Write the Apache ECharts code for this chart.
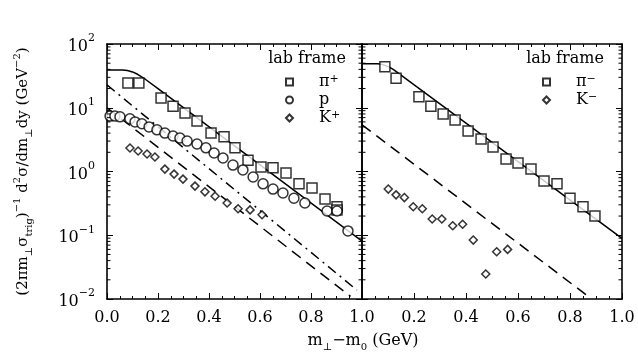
<!DOCTYPE html>
<html>
<head>
<meta charset="utf-8">
<script src="https://cdn.jsdelivr.net/npm/echarts@6/dist/echarts.min.js"></script>
<style>
html,body{margin:0;padding:0;background:#fff;}
#c{width:638px;height:358px;}
</style>
</head>
<body>
<div id="c"></div>
<script>
// ---------- data ----------
// left panel: pi+, p, K+
const piPlus = [[0.082,24.4],[0.125,24.4],[0.212,14.2],[0.259,10.6],[0.306,8.3],[0.353,6.2],[0.408,4.0],[0.459,3.5],[0.502,2.35],[0.553,1.5],[0.604,1.18],[0.651,1.14],[0.702,0.95],[0.753,0.64],[0.804,0.55],[0.855,0.37],[0.902,0.28],[0.902,0.25]];
const proton = [[0.012,7.4],[0.031,7.4],[0.051,7.2],[0.090,6.7],[0.110,6.0],[0.137,5.6],[0.165,5.0],[0.196,4.5],[0.227,4.0],[0.259,3.6],[0.286,3.35],[0.314,3.0],[0.353,2.7],[0.388,2.35],[0.420,1.95],[0.455,1.63],[0.494,1.26],[0.533,1.06],[0.573,0.82],[0.612,0.64],[0.651,0.53],[0.690,0.46],[0.733,0.38],[0.776,0.32],[0.863,0.24],[0.902,0.24],[0.945,0.117]];
const kPlus = [[0.090,2.34],[0.122,2.10],[0.157,1.88],[0.188,1.69],[0.227,1.09],[0.263,0.91],[0.298,0.76],[0.345,0.59],[0.384,0.48],[0.424,0.41],[0.471,0.32],[0.514,0.26],[0.561,0.25],[0.608,0.21]];
const fitSolidL = [[0,39],[0.06,39],[0.08,38.3],[0.10,36.5],[0.12,33.5],[0.15,28],[0.20,20],[1.0,0.081]];
const fitDashL = [[0,10],[0.955,0.011]];
const fitDashDotL = [[0,22.8],[0.98,0.0138]];
// right panel: pi-, K-
const piMinus = [[0.088,44],[0.131,29],[0.219,14.9],[0.265,10.6],[0.312,8.0],[0.358,6.4],[0.408,4.3],[0.458,3.24],[0.504,2.42],[0.554,1.57],[0.600,1.36],[0.650,1.09],[0.700,0.71],[0.750,0.64],[0.800,0.38],[0.850,0.28],[0.896,0.20]];
const kMinus = [[0.101,0.53],[0.131,0.43],[0.163,0.39],[0.197,0.28],[0.232,0.26],[0.270,0.18],[0.307,0.18],[0.349,0.141],[0.387,0.149],[0.428,0.084],[0.476,0.0247],[0.518,0.055],[0.560,0.060]];
const fitSolidR = [[0,49],[0.06,49],[0.08,47.5],[0.10,44.5],[0.12,40],[1.0,0.089]];
const fitDashR = [[0,5.4],[0.87,0.011]];
// axis ticks
const xTicks = [0,0.2,0.4,0.6,0.8,1.0];
const yDecades = [0.01,0.1,1,10];
const yMinorMult = [2,3,4,5,6,7,8,9];
// -------------------------------------------------

const FONT = 'DejaVu Serif';
const yMinor = [];
yDecades.forEach(d => yMinorMult.forEach(m => yMinor.push([0, +(d*m).toPrecision(3)])));

const chart = echarts.init(document.getElementById('c'), null, {renderer:'canvas'});

const supLabel = v => {
  const e = Math.round(Math.log10(v));
  return '{b|10}{s|' + (e < 0 ? '\u2212' + (-e) : e) + '}';
};
const yLabelRich = {
  b:{fontFamily:FONT,fontSize:16,color:'#000',lineHeight:22,verticalAlign:'bottom'},
  s:{fontFamily:FONT,fontSize:11,color:'#000',lineHeight:22,verticalAlign:'top'}
};

function xAxisDef(grid, showLabels, pos, hideZero){
  return {
    type:'value', gridIndex:grid, min:0, max:1, interval:0.2, position:pos,
    axisLine:{show:true,onZero:false,lineStyle:{color:'#000',width:1.6}},
    axisTick:{show:true,inside:true,length:6,lineStyle:{color:'#000',width:1}},
    minorTick:{show:true,splitNumber:4,length:3,lineStyle:{color:'#000',width:1}},
    splitLine:{show:false},
    axisLabel:{show:showLabels,margin:11,fontFamily:FONT,fontSize:16,color:'#000',
      formatter:v => (hideZero && v===0) ? '' : v.toFixed(1)}
  };
}
function yAxisDef(grid, showLabels, pos, extra){
  return Object.assign({
    type:'log', logBase:10, gridIndex:grid, min:0.01, max:100, position:pos,
    axisLine:{show:true,onZero:false,lineStyle:{color:'#000',width:1.6}},
    axisTick:{show:true,inside:true,length:6,lineStyle:{color:'#000',width:1}},
    splitLine:{show:false},
    axisLabel:{show:showLabels,margin:12,formatter:supLabel,rich:yLabelRich}
  }, extra||{});
}

const blackLine = (type) => ({color:'#000',width:1.5,type:type});
const sym = (shape,size) => ({symbol:shape,symbolSize:size,itemStyle:{color:'#fff',borderColor:'#000',borderWidth:1.5}});

function minorTickSeries(xi, yi){
  return {
    type:'custom', xAxisIndex:xi, yAxisIndex:yi, silent:true, clip:false, z:5,
    encode:{x:0,y:1}, data:yMinor,
    renderItem:(params, api) => {
      const p = api.coord([0, api.value(1)]);
      const cs = params.coordSys;
      const st = {stroke:'#000',lineWidth:1};
      return {type:'group',children:[
        {type:'line',shape:{x1:cs.x,y1:p[1],x2:cs.x+3.5,y2:p[1]},style:st},
        {type:'line',shape:{x1:cs.x+cs.width-3.5,y1:p[1],x2:cs.x+cs.width,y2:p[1]},style:st}
      ]};
    }
  };
}

const legendRich = {
  g:{width:21,lineHeight:16},
  t:{fontFamily:FONT,fontSize:16,color:'#000',lineHeight:16,verticalAlign:'bottom'},
  u:{fontFamily:FONT,fontSize:11,color:'#000',lineHeight:16,verticalAlign:'top'}
};
const legendFmt = name => {
  const map = {'π+':'{g|}{t|π}{u|+}','p':'{g|}{t|p}','K+':'{g|}{t|K}{u|+}','π−':'{g|}{t|π}{u|\u2212}','K−':'{g|}{t|K}{u|\u2212}'};
  return map[name];
};

const option = {
  backgroundColor:'#fff',
  animation:false,
  grid:[
    {left:107,top:44,width:255,height:255},
    {left:362,top:44,width:260,height:255}
  ],
  xAxis:[
    xAxisDef(0,true,'bottom',false),
    xAxisDef(0,false,'top',false),
    xAxisDef(1,true,'bottom',true),
    xAxisDef(1,false,'top',false)
  ],
  yAxis:[
    yAxisDef(0,true,'left',{
      name:'{a|(2πm}{sb|⊥}{a|σ}{sb|trig}{a|)}{sp|\u22121}{a| d}{sp|2}{a|σ/dm}{sb|⊥}{a|dy (GeV}{sp|\u22122}{a|)}',
      nameLocation:'middle', nameRotate:90, nameGap:73,
      nameTextStyle:{rich:{
        a:{fontFamily:FONT,fontSize:15,color:'#000',lineHeight:22,verticalAlign:'middle'},
        sp:{fontFamily:FONT,fontSize:10,color:'#000',lineHeight:22,verticalAlign:'top'},
        sb:{fontFamily:FONT,fontSize:10,color:'#000',lineHeight:22,verticalAlign:'bottom'}
      }}
    }),
    yAxisDef(0,false,'right'),
    yAxisDef(1,false,'left'),
    yAxisDef(1,false,'right')
  ],
  legend:[
    {data:['π+','p','K+'],orient:'vertical',left:280,top:69,itemWidth:7,itemHeight:7,itemGap:2,
     formatter:legendFmt,textStyle:{rich:legendRich},selectedMode:false},
    {data:['π−','K−'],orient:'vertical',left:537,top:69,itemWidth:7,itemHeight:7,itemGap:2,
     formatter:legendFmt,textStyle:{rich:legendRich},selectedMode:false}
  ],
  graphic:[
    {type:'text',x:307,y:59,style:{text:'lab frame',font:'16px "DejaVu Serif"',fill:'#000',align:'center',verticalAlign:'middle'}},
    {type:'text',x:565,y:59,style:{text:'lab frame',font:'16px "DejaVu Serif"',fill:'#000',align:'center',verticalAlign:'middle'}},
    {type:'text',x:363,y:341,style:{
      text:'{a|m}{b|⊥}{a|\u2212m}{b|0}{a| (GeV)}',align:'center',verticalAlign:'middle',
      rich:{
        a:{fontFamily:FONT,fontSize:16,fill:'#000',color:'#000',lineHeight:22,verticalAlign:'middle'},
        b:{fontFamily:FONT,fontSize:10,fill:'#000',color:'#000',lineHeight:22,verticalAlign:'bottom'}
      }}}
  ],
  series:[
    Object.assign({name:'π+',type:'scatter',xAxisIndex:0,yAxisIndex:0,data:piPlus,z:3},sym('rect',10)),
    Object.assign({name:'p',type:'scatter',xAxisIndex:0,yAxisIndex:0,data:proton,z:3},sym('circle',10)),
    Object.assign({name:'K+',type:'scatter',xAxisIndex:0,yAxisIndex:0,data:kPlus,z:3},sym('diamond',8)),
    {type:'line',xAxisIndex:0,yAxisIndex:0,data:fitSolidL,showSymbol:false,lineStyle:blackLine('solid'),z:2},
    {type:'line',xAxisIndex:0,yAxisIndex:0,data:fitDashL,showSymbol:false,lineStyle:blackLine([11,7]),z:2},
    {type:'line',xAxisIndex:0,yAxisIndex:0,data:fitDashDotL,showSymbol:false,lineStyle:blackLine([10,5,2,5]),z:2},
    Object.assign({name:'π−',type:'scatter',xAxisIndex:2,yAxisIndex:2,data:piMinus,z:3},sym('rect',10)),
    Object.assign({name:'K−',type:'scatter',xAxisIndex:2,yAxisIndex:2,data:kMinus,z:3},sym('diamond',8)),
    {type:'line',xAxisIndex:2,yAxisIndex:2,data:fitSolidR,showSymbol:false,lineStyle:blackLine('solid'),z:2},
    {type:'line',xAxisIndex:2,yAxisIndex:2,data:fitDashR,showSymbol:false,lineStyle:blackLine([11,7]),z:2},
    minorTickSeries(0,0),
    minorTickSeries(2,2)
  ]
};
chart.setOption(option);
</script>
</body>
</html>
